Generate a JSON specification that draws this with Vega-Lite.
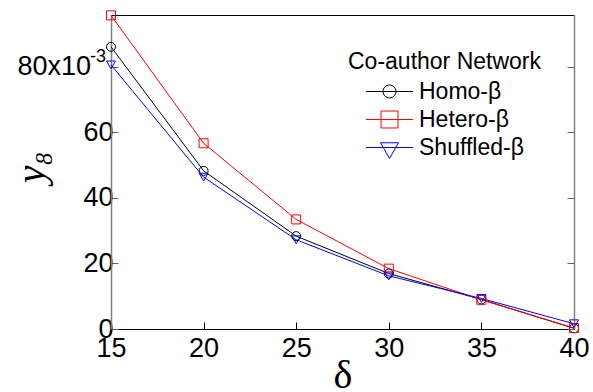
{
  "$schema": "https://vega.github.io/schema/vega-lite/v6.json",
  "width": 463,
  "height": 314,
  "autosize": {"type": "none"},
  "padding": {"left": 111, "top": 15, "right": 19, "bottom": 63},
  "background": "white",
  "config": {
    "view": {"stroke": null},
    "axis": {"grid": false, "labelFont": "Liberation Sans", "titleFont": "Liberation Serif"}
  },
  "data": {
    "values": [
      {"delta": 15, "y": 86.0, "series": "Homo-β"},
      {"delta": 20, "y": 48.2, "series": "Homo-β"},
      {"delta": 25, "y": 28.3, "series": "Homo-β"},
      {"delta": 30, "y": 16.9, "series": "Homo-β"},
      {"delta": 35, "y": 9.0, "series": "Homo-β"},
      {"delta": 40, "y": 0.2, "series": "Homo-β"},
      {"delta": 15, "y": 95.6, "series": "Hetero-β"},
      {"delta": 20, "y": 56.6, "series": "Hetero-β"},
      {"delta": 25, "y": 33.4, "series": "Hetero-β"},
      {"delta": 30, "y": 18.4, "series": "Hetero-β"},
      {"delta": 35, "y": 8.9, "series": "Hetero-β"},
      {"delta": 40, "y": 0.3, "series": "Hetero-β"},
      {"delta": 15, "y": 80.5, "series": "Shuffled-β"},
      {"delta": 20, "y": 46.3, "series": "Shuffled-β"},
      {"delta": 25, "y": 27.2, "series": "Shuffled-β"},
      {"delta": 30, "y": 16.2, "series": "Shuffled-β"},
      {"delta": 35, "y": 9.3, "series": "Shuffled-β"},
      {"delta": 40, "y": 1.6, "series": "Shuffled-β"}
    ]
  },
  "layer": [
    {
      "mark": {"type": "line", "strokeWidth": 1},
      "encoding": {
        "x": {
          "field": "delta", "type": "quantitative",
          "scale": {"domain": [15, 40], "nice": false, "zero": false},
          "axis": {
            "orient": "bottom", "values": [15, 20, 25, 30, 35, 40],
            "title": "δ", "titleFont": "Liberation Serif", "titleFontSize": 40, "titleFontWeight": "normal",
            "titleColor": "black", "titleBaseline": "alphabetic", "titleY": 58,
            "domainColor": "black", "domainWidth": 1, "tickColor": "black", "tickSize": -7, "tickWidth": 1,
            "labelFontSize": 27, "labelColor": "black", "labelPadding": 13, "labelFlush": false
          }
        },
        "y": {
          "field": "y", "type": "quantitative",
          "scale": {"domain": [0, 95.7], "nice": false},
          "axis": {
            "orient": "left", "values": [0, 20, 40, 60, 80],
            "labelExpr": "datum.value === 80 ? '80x10\u00a0\u00a0\u00a0\u200b' : datum.label",
            "title": "y₈", "titleFont": "Liberation Serif", "titleFontStyle": "italic", "titleFontWeight": "normal",
            "titleFontSize": 40, "titleColor": "black", "titleAngle": -90, "titleX": -68, "titleY": 152,
            "titleBaseline": "alphabetic", "titleAlign": "center",
            "domainColor": "#808080", "domainWidth": 1.5, "tickColor": "#606060", "tickSize": -7, "tickWidth": 1,
            "labelFontSize": 27, "labelColor": "black", "labelPadding": 5, "labelFlush": false
          }
        },
        "color": {
          "field": "series", "type": "nominal",
          "scale": {"domain": ["Homo-β", "Hetero-β", "Shuffled-β"], "range": ["#000000", "#ff0000", "#0000ff"]},
          "legend": null
        }
      }
    },
    {
      "mark": {"type": "point", "filled": false, "strokeWidth": 1, "size": 81, "opacity": 1},
      "encoding": {
        "x": {
          "field": "delta", "type": "quantitative",
          "axis": {"orient": "top", "labels": false, "ticks": false, "title": null, "domainColor": "black", "domainWidth": 1}
        },
        "y": {
          "field": "y", "type": "quantitative",
          "axis": {"orient": "right", "labels": false, "title": null, "values": [0, 20, 40, 60, 80],
                   "tickSize": -7, "tickColor": "#606060", "tickWidth": 1, "domainColor": "#808080", "domainWidth": 1.5}
        },
        "color": {
          "field": "series", "type": "nominal",
          "scale": {"domain": ["Homo-β", "Hetero-β", "Shuffled-β"], "range": ["#000000", "#ff0000", "#0000ff"]},
          "legend": null
        },
        "shape": {
          "field": "series", "type": "nominal",
          "scale": {"domain": ["Homo-β", "Hetero-β", "Shuffled-β"], "range": ["circle", "square", "triangle-down"]},
          "legend": null
        }
      }
    },
    {
      "data": {"values": [{"sup": "-3"}]},
      "mark": {"type": "text", "font": "Liberation Sans", "fontSize": 18, "color": "black",
               "align": "right", "baseline": "middle", "dx": -5, "dy": -10},
      "encoding": {
        "x": {"datum": 15, "type": "quantitative", "axis": null},
        "y": {"datum": 80, "type": "quantitative", "axis": null},
        "text": {"field": "sup", "type": "nominal"}
      }
    },
    {
      "transform": [{"filter": "false"}],
      "mark": {"type": "point", "filled": false, "strokeWidth": 1, "opacity": 1},
      "encoding": {
        "color": {
          "field": "series", "type": "nominal",
          "scale": {"domain": ["Homo-β", "Hetero-β", "Shuffled-β"], "range": ["#000000", "#ff0000", "#0000ff"]},
          "legend": {
            "orient": "none", "legendX": 237, "legendY": 36, "title": "Co-author Network",
            "titleFont": "Liberation Sans", "titleFontSize": 23, "titleFontWeight": "normal", "titleColor": "black",
            "titlePadding": 6, "labelFont": "Liberation Sans", "labelFontSize": 23, "labelColor": "black",
            "symbolSize": 256, "symbolStrokeWidth": 1, "symbolOffset": 30, "labelOffset": 18, "rowPadding": 4,
            "padding": 0, "labelLimit": 300, "titleLimit": 400
          }
        },
        "shape": {
          "field": "series", "type": "nominal",
          "scale": {
            "domain": ["Homo-β", "Hetero-β", "Shuffled-β"],
            "range": [
              "M-2.94,0H2.94M-0.81,0A0.81,0.81,0,1,1,0.81,0A0.81,0.81,0,1,1,-0.81,0Z",
              "M-2.94,0H2.94M-1.06,-1.06H1.06V1.06H-1.06Z",
              "M-2.94,0H2.94M-1.12,-0.59H1.12L0,1.37Z"
            ]
          },
          "legend": {
            "orient": "none", "legendX": 237, "legendY": 36, "title": "Co-author Network",
            "titleFont": "Liberation Sans", "titleFontSize": 23, "titleFontWeight": "normal", "titleColor": "black",
            "titlePadding": 6, "labelFont": "Liberation Sans", "labelFontSize": 23, "labelColor": "black",
            "symbolSize": 256, "symbolStrokeWidth": 1, "symbolOffset": 30, "labelOffset": 18, "rowPadding": 4,
            "padding": 0, "labelLimit": 300, "titleLimit": 400
          }
        }
      }
    }
  ],
  "resolve": {"scale": {"shape": "independent", "color": "independent"}}
}
